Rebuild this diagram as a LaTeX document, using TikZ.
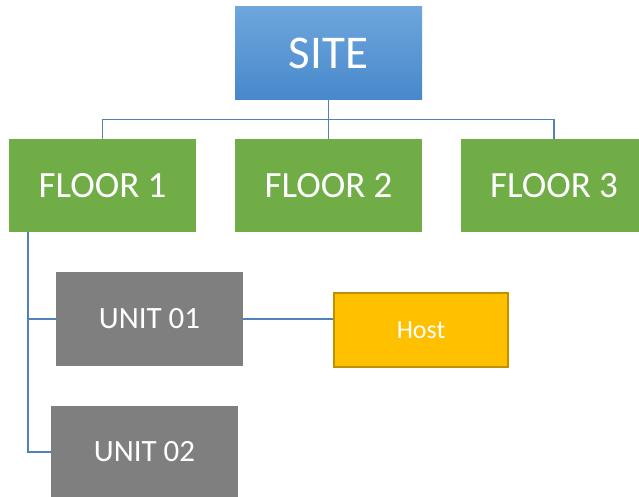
\documentclass[tikz,border=0pt]{standalone}
\usepackage{fontspec}
\setmainfont{Carlito}
\definecolor{siteTop}{HTML}{6EA6DD}
\definecolor{siteBot}{HTML}{4788CB}
\definecolor{floorGreen}{HTML}{70AD47}
\definecolor{unitGray}{HTML}{7F7F7F}
\definecolor{hostFill}{HTML}{FFC000}
\definecolor{hostEdge}{HTML}{BF9000}
\definecolor{linkBlue}{HTML}{4F81BD}
\begin{document}
\begin{tikzpicture}[x=1pt,y=-1pt,
  box/.style={rectangle, inner sep=0pt, text=white, minimum width=187pt, minimum height=93pt},
  sitebox/.style={box, top color=siteTop, bottom color=siteBot, font=\fontsize{47}{50}\selectfont},
  floorbox/.style={box, fill=floorGreen, font=\fontsize{37}{40}\selectfont},
  unitbox/.style={box, fill=unitGray, font=\fontsize{31}{34}\selectfont},
  hostbox/.style={box, fill=hostFill, draw=hostEdge, line width=2pt, minimum width=174pt, minimum height=74pt, font=\fontsize{26}{29}\selectfont},
  link/.style={draw=linkBlue, line width=1.3pt}
]
\clip (0,0) rectangle (639,497);
\fill[white] (0,0) rectangle (639,497);

% top level
\node[sitebox] (site) at (328.5,53.5) {SITE};

% floors
\node[floorbox] (f1) at (102.5,185.5) {FLOOR 1};
\node[floorbox] (f2) at (328.5,185.5) {FLOOR 2};
\node[floorbox] (f3) at (554,185.5) {FLOOR 3};

% units under floor 1
\node[unitbox, minimum height=94pt] (u1) at (149.5,319) {UNIT 01};
\node[unitbox] (u2) at (144.5,452) {UNIT 02};

% host attached to unit 01
\node[hostbox] (host) at (421,330) {Host};

% site to floors
\draw[link] (site.south) -- (f2.north);
\draw[link] (f1.north) -- ++(0,-19) -| (f3.north);

% floor 1 to its units
\coordinate (trunk) at (28,232);
\draw[link] (trunk) |- (u2.west);
\draw[link] (u1.west) -- (u1.west -| trunk);

% unit 01 to host
\draw[link] (u1.east) -- (u1.east -| host.west);
\end{tikzpicture}
\end{document}
